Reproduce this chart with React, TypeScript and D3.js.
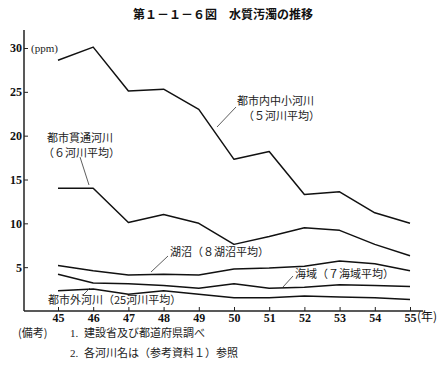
import React from 'react';
import { scaleLinear, line, axisBottom, axisLeft, select } from 'd3';

const years = [45, 46, 47, 48, 49, 50, 51, 52, 53, 54, 55];
const yTicks = [5, 10, 15, 20, 25, 30];

const toshiNaiChusho = [28.6, 30.1, 25.1, 25.3, 23.0, 17.3, 18.2, 13.3, 13.6, 11.2, 10.0];
const toshiKantsu = [14.0, 14.0, 10.1, 11.0, 10.0, 7.6, 8.5, 9.5, 9.2, 7.6, 6.3];
const kosho = [5.2, 4.6, 4.1, 4.2, 4.1, 4.8, 4.9, 5.1, 5.7, 5.4, 4.6];
const kaiiki = [4.2, 3.2, 3.1, 2.9, 2.6, 3.1, 2.6, 2.7, 3.0, 2.9, 2.8];
const toshiGai = [2.3, 2.5, 1.9, 2.3, 1.9, 1.5, 1.5, 1.7, 1.6, 1.5, 1.3];

const seriesList = [toshiNaiChusho, toshiKantsu, kosho, kaiiki, toshiGai];

const jp = '"Noto Sans CJK JP", sans-serif';
const num = '"Liberation Serif", serif';

const App = () => {
    const svgWidth = 447;
    const svgHeight = 368;
    const axisX = 24;
    const axisY = 311;

    const x = scaleLinear().domain([45, 55]).range([58, 410]);
    const y = scaleLinear().domain([0, 30]).range([axisY, 48]);
    const linefunc = line<number>().x((d, i) => x(years[i])).y(d => y(d));

    const xAxisRef = React.useRef<SVGGElement>(null);
    const yAxisRef = React.useRef<SVGGElement>(null);

    React.useEffect(() => {
        const xa = select(xAxisRef.current);
        xa.call(axisBottom(x).tickValues(years).tickSize(-4).tickPadding(2).tickFormat(d => String(d)) as any);
        xa.select('.domain').remove();
        xa.selectAll('text').attr('font-family', num).attr('font-size', 12).attr('font-weight', 'bold').attr('fill', '#111');
        xa.selectAll('line').attr('stroke', '#222');

        const ya = select(yAxisRef.current);
        ya.call(axisLeft(y).tickValues(yTicks).tickSize(-4).tickPadding(2).tickFormat(d => String(d)) as any);
        ya.select('.domain').remove();
        ya.selectAll('text').attr('font-family', num).attr('font-size', 12).attr('font-weight', 'bold').attr('fill', '#111');
        ya.selectAll('line').attr('stroke', '#222');
    }, []);

    const lbl = { fontFamily: jp, fontSize: 11, fill: '#222' } as React.CSSProperties;

    return (
        <svg width={svgWidth} height={svgHeight} style={{ position: 'absolute', left: 0, top: 0, background: '#fff' }}>
            <text x={223} y={19} textAnchor='middle' style={{ fontFamily: jp, fontSize: 12, fontWeight: 'bold', fill: '#111' }}>第１－１－６図　水質汚濁の推移</text>

            <line x1={axisX} y1={30} x2={axisX} y2={axisY} stroke='#222' strokeWidth={1.5} />
            <line x1={axisX} y1={axisY} x2={423} y2={axisY} stroke='#222' strokeWidth={1.5} />
            <g ref={xAxisRef} transform={`translate(0,${axisY})`} />
            <g ref={yAxisRef} transform={`translate(${axisX},0)`} />

            <text x={31} y={52} style={{ fontFamily: num, fontSize: 11, fill: '#222' }}>(ppm)</text>
            <text x={417} y={321} style={{ fontFamily: jp, fontSize: 12, fill: '#111' }}>(年)</text>

            <g fill='none' stroke='#111' strokeWidth={1.5} strokeLinejoin='round'>
                {seriesList.map((s, i) => <path key={i} d={linefunc(s) || ''} />)}
            </g>

            <g stroke='#333' strokeWidth={0.8}>
                <line x1={236} y1={107} x2={217} y2={127} />
                <line x1={80} y1={157} x2={89} y2={185} />
                <line x1={168} y1={256} x2={151} y2={272} />
                <line x1={293} y1={276} x2={283} y2={287} />
                <line x1={83} y1={295} x2={90} y2={288} />
            </g>

            <text x={237} y={105} style={lbl}>都市内中小河川</text>
            <text x={243} y={120} style={lbl}>（５河川平均）</text>
            <text x={47} y={142} style={lbl}>都市貫通河川</text>
            <text x={43} y={157} style={lbl}>（６河川平均）</text>
            <text x={170} y={256} style={lbl}>湖沼（８湖沼平均）</text>
            <text x={295} y={278} style={lbl}>海域（７海域平均）</text>
            <text x={48} y={304} style={lbl}>都市外河川（25河川平均）</text>

            <text x={18} y={337} style={lbl}>(備考)</text>
            <text x={70} y={337} style={{ fontFamily: num, fontSize: 11, fill: '#222' }}>1.</text>
            <text x={84} y={337} style={lbl}>建設省及び都道府県調べ</text>
            <text x={70} y={357} style={{ fontFamily: num, fontSize: 11, fill: '#222' }}>2.</text>
            <text x={84} y={357} style={lbl}>各河川名は（参考資料１）参照</text>
        </svg>
    );
};

export default App;
